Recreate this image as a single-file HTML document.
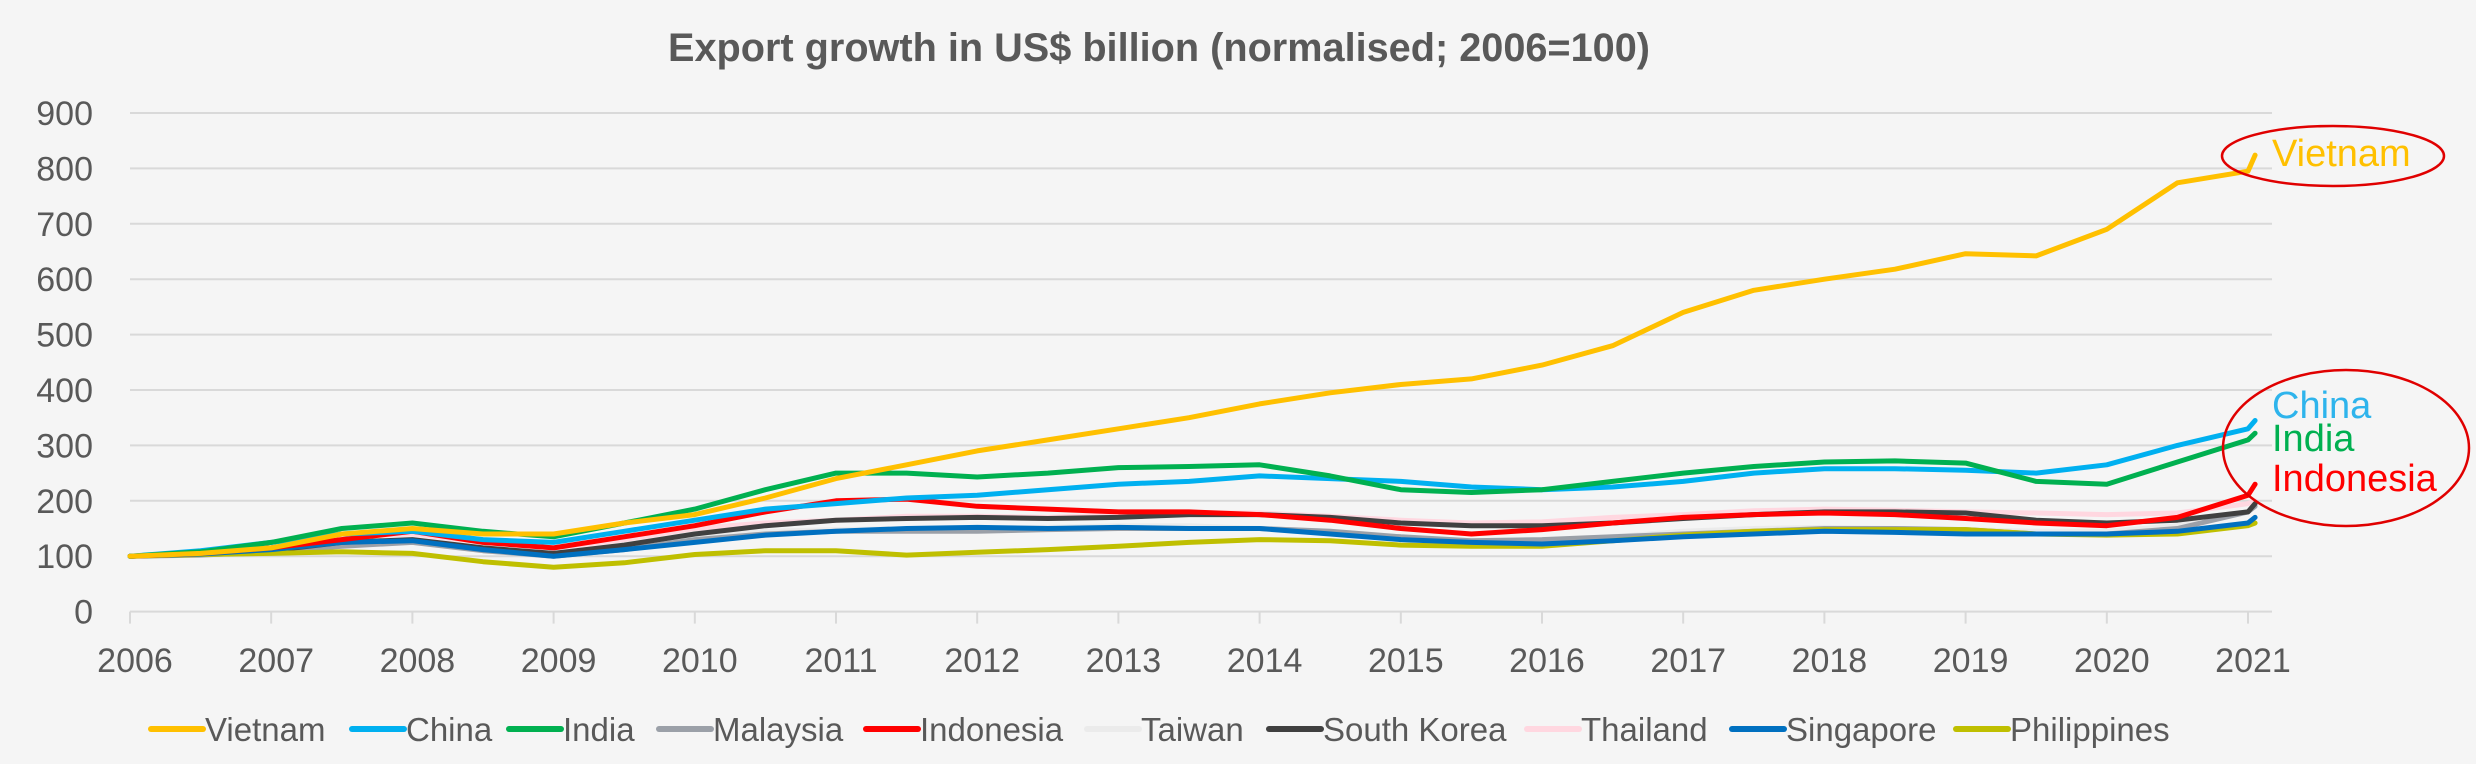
<!DOCTYPE html>
<html><head><meta charset="utf-8"><style>
html,body{margin:0;padding:0;background:#f5f5f5;}
svg{display:block;font-family:"Liberation Sans",sans-serif;}
</style></head><body>
<svg id="chart" width="2476" height="764" viewBox="0 0 2476 764" xmlns="http://www.w3.org/2000/svg">
<rect width="2476" height="764" fill="#f5f5f5"/>
<text x="1159" y="61" text-anchor="middle" font-size="40" font-weight="bold" fill="#595959" textLength="982" lengthAdjust="spacingAndGlyphs">Export growth in US$ billion (normalised; 2006=100)</text>
<g id="grid"></g><g id="axes"></g><g id="series"></g><g id="legend"></g>
<g>
<ellipse cx="2333" cy="156" rx="111" ry="30" fill="none" stroke="#e00000" stroke-width="2.5"/>
<ellipse cx="2346" cy="448" rx="123" ry="78" fill="none" stroke="#e00000" stroke-width="2.5"/>
<text x="2272" y="166" font-size="38" fill="#ffc000">Vietnam</text>
<text x="2272" y="418" font-size="38" fill="#2eb4ec">China</text>
<text x="2272" y="451" font-size="38" fill="#00b050">India</text>
<text x="2272" y="491" font-size="38" fill="#ff0000">Indonesia</text>
</g>
</svg>
<script>
const times=[2006,2006.5,2007,2007.5,2008,2008.5,2009,2009.5,2010,2010.5,2011,2011.5,2012,2012.5,2013,2013.5,2014,2014.5,2015,2015.5,2016,2016.5,2017,2017.5,2018,2018.5,2019,2019.5,2020,2020.5,2021,2021.05];
const yTicks=[0,100,200,300,400,500,600,700,800,900];
const xTicks=[2006,2007,2008,2009,2010,2011,2012,2013,2014,2015,2016,2017,2018,2019,2020,2021];
const seriesNames=["Vietnam","China","India","Malaysia","Indonesia","Taiwan","South Korea","Thailand","Singapore","Philippines"];
const vietnam=[100,105,115,140,150,140,140,160,175,205,240,265,290,310,330,350,375,395,410,420,445,480,540,580,600,618,646,642,690,774,795,824];
const china=[100,110,125,140,145,130,125,145,165,185,195,205,210,220,230,235,245,240,235,225,220,225,235,250,258,258,255,250,265,300,330,345];
const india=[100,108,125,150,160,145,135,160,185,220,250,250,243,250,260,262,265,245,220,215,220,235,250,262,270,272,268,235,230,270,310,322];
const malaysia=[100,102,108,118,125,110,100,112,130,140,145,145,145,148,150,150,150,145,135,128,130,135,140,145,150,150,148,140,140,150,180,190];
const indonesia=[100,105,115,130,145,125,115,135,155,180,200,203,190,185,180,180,175,165,150,140,148,160,170,175,178,175,168,160,155,170,210,230];
const taiwan=[100,103,110,120,125,110,100,115,135,145,148,150,150,152,155,155,150,145,135,128,128,135,145,150,152,150,148,145,145,155,180,190];
const southKorea=[100,105,110,125,130,115,105,120,140,155,165,168,170,168,170,175,175,170,160,155,155,160,168,175,180,180,178,165,160,165,180,195];
const thailand=[100,108,118,135,140,125,115,130,150,160,165,172,172,170,175,178,178,172,165,160,162,170,175,182,185,183,180,178,175,178,195,200];
const singapore=[100,104,112,125,128,112,100,112,125,138,145,150,152,150,152,150,150,140,130,125,122,128,135,140,145,143,140,140,140,145,160,170];
const philippines=[100,103,105,108,105,90,80,88,103,110,110,102,107,112,118,125,130,128,120,118,118,128,138,145,148,148,148,140,138,140,155,160];

const NS="http://www.w3.org/2000/svg";
const X0=130,XPY=141.2,Y0=611.6,YPU=0.554,XR=2272;
function xs(t){return X0+(t-2006)*XPY;}
function ys(v){return Y0-v*YPU;}
function mk(tag,attrs,parent){const e=document.createElementNS(NS,tag);for(const k in attrs)e.setAttribute(k,attrs[k]);parent.appendChild(e);return e;}
const grid=document.getElementById('grid'),axes=document.getElementById('axes'),ser=document.getElementById('series'),leg=document.getElementById('legend');
yTicks.forEach(v=>{
  if(v>0){const l=mk('line',{x1:X0,x2:XR,y1:ys(v),y2:ys(v),stroke:'#d9d9d9','stroke-width':2},grid);
  
  }
  const t=mk('text',{x:93,y:ys(v)+12,'text-anchor':'end','font-size':34,fill:'#595959'},axes);
  t.textContent=v;
  
  
});
const ax=mk('line',{x1:X0,x2:XR,y1:Y0,y2:Y0,stroke:'#d9d9d9','stroke-width':2},axes);


xTicks.forEach(yr=>{
  const tk=mk('line',{x1:xs(yr),x2:xs(yr),y1:Y0,y2:Y0+12,stroke:'#d9d9d9','stroke-width':2},axes);
  
  
  const t=mk('text',{x:xs(yr)+5,y:672,'text-anchor':'middle','font-size':34,fill:'#595959'},axes);
  t.textContent=yr;
  
  
});
const data=[vietnam,china,india,malaysia,indonesia,taiwan,southKorea,thailand,singapore,philippines];
const colors=["#ffc000","#00b0f0","#00b050","#9ba0a8","#ff0000","#ebebeb","#404040","#ffd7e0","#0070c0","#bfbf00"];
const order=[5,3,7,6,9,8,4,1,2,0];
order.forEach(i=>{
  const d=data[i].map((v,j)=>(j?'L':'M')+xs(times[j]).toFixed(1)+' '+ys(v).toFixed(1)).join(' ');
  const p=mk('path',{d:d,fill:'none',stroke:colors[i],'stroke-width':5,'stroke-linejoin':'round','stroke-linecap':'round'},ser);
  
  
});
const legX=[149,350,507,657,864,1085,1267,1525,1730,1954];
seriesNames.forEach((n,i)=>{
  const g=mk('g',{},leg);
  
  
  mk('line',{x1:legX[i]+2,x2:legX[i]+54,y1:729,y2:729,stroke:colors[i],'stroke-width':6,'stroke-linecap':'round'},g);
  const t=mk('text',{x:legX[i]+56,y:741,'font-size':33,fill:'#595959'},g);
  t.textContent=n;
});
</script>
</body></html>
